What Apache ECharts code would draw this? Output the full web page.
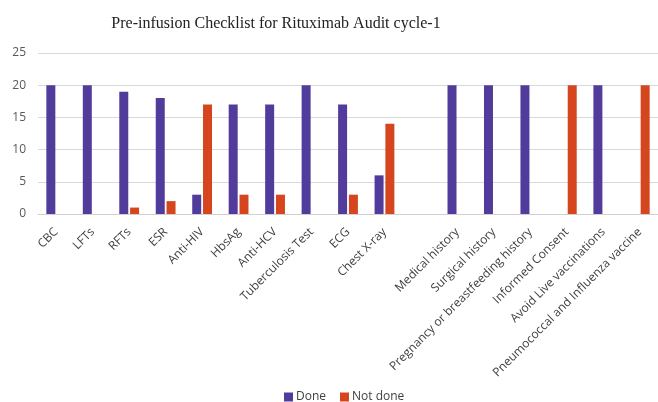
<!DOCTYPE html>
<html>
<head>
<meta charset="utf-8">
<script src="https://cdn.jsdelivr.net/npm/echarts@6/dist/echarts.min.js"></script>
<style>
  html, body { margin: 0; padding: 0; background: #fff; }
  #chart { width: 658px; height: 402px; }
</style>
</head>
<body>
<div id="chart"></div>
<script>
const categories = [
  'CBC', 'LFTs', 'RFTs', 'ESR', 'Anti-HIV', 'HbsAg', 'Anti-HCV', 'Tuberculosis Test',
  'ECG', 'Chest X-ray', '', 'Medical history', 'Surgical history',
  'Pregnancy or breastfeeding history', 'Informed Consent', 'Avoid Live vaccinations',
  'Pneumococcal and Influenza vaccine'
]
const doneValues = [20, 20, 19, 18, 3, 17, 17, 20, 17, 6, null, 20, 20, 20, null, 20, null]
const notDoneValues = [null, null, 1, 2, 17, 3, 3, null, 3, 14, null, null, null, null, 20, null, 20]
const yTicks = { min: 0, max: 25, interval: 5 }

const chart = echarts.init(document.getElementById('chart'))

chart.setOption({
  animation: false,
  title: {
    text: 'Pre-infusion Checklist for Rituximab Audit cycle-1',
    left: 271, top: 11, textAlign: 'center',
    textStyle: { fontFamily: 'Liberation Serif', fontSize: 16, fontWeight: 'normal', color: '#222' }
  },
  legend: {
    data: ['Done', 'Not done'],
    left: 279, top: 386,
    itemWidth: 9, itemHeight: 9, itemGap: 14,
    icon: 'rect',
    textStyle: { fontFamily: 'Open Sans', fontSize: 12, color: '#404040', padding: [0, 0, 0, -2] }
  },
  grid: { top: 53, bottom: 188, left: 38, right: -8, containLabel: false },
  xAxis: {
    type: 'category',
    data: categories,
    axisLine: { lineStyle: { color: '#d0d0d0' } },
    axisTick: { show: false },
    axisLabel: { interval: 0, rotate: 45, fontFamily: 'Open Sans', fontSize: 12, color: '#404040', margin: 16 }
  },
  yAxis: {
    type: 'value',
    min: yTicks.min, max: yTicks.max, interval: yTicks.interval,
    axisLine: { show: false }, axisTick: { show: false },
    splitLine: { lineStyle: { color: '#d9d9d9' } },
    axisLabel: { fontFamily: 'Open Sans', fontSize: 12, color: '#595959', margin: 12 }
  },
  series: [
    {
      name: 'Done', type: 'bar', data: doneValues,
      barWidth: 9, barGap: '20%',
      itemStyle: { color: '#523c9b' }
    },
    {
      name: 'Not done', type: 'bar', data: notDoneValues,
      barWidth: 9,
      itemStyle: { color: '#d6461e' }
    }
  ]
})
</script>
</body>
</html>
